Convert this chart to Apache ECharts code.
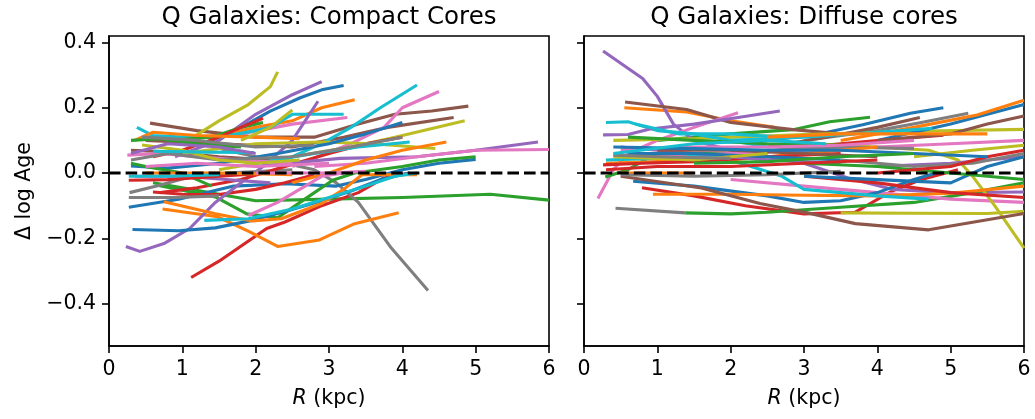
<!DOCTYPE html>
<html>
<head>
<meta charset="utf-8">
<script src="https://cdn.jsdelivr.net/npm/echarts@6/dist/echarts.min.js"></script>
<style>
html,body{margin:0;padding:0;background:#fff;}
#chart{width:1035px;height:419px;}
</style>
</head>
<body>
<div id="chart"></div>
<script>
// ---------- tick labels ----------
const xTicks = [0, 1, 2, 3, 4, 5, 6];
const yTicks = [-0.4, -0.2, 0, 0.2, 0.4];
const titles = ['Q Galaxies: Compact Cores', 'Q Galaxies: Diffuse cores'];

// ---------- left panel (Compact cores): profiles [R kpc, dlogAge] grouped by colour ----------
const leftBlue = [
  [[1.3,0.09],[1.8,0.14],[2.2,0.19],[2.6,0.23],[2.9,0.255],[3.2,0.268]],
  [[0.27,-0.105],[0.95,-0.08],[1.7,-0.04],[2.4,-0.033],[3.1,-0.04],[3.5,-0.02],[4.0,0.01],[4.5,0.03],[5.0,0.042]],
  [[0.32,-0.173],[0.95,-0.177],[1.45,-0.168],[1.95,-0.145],[2.45,-0.115],[2.9,-0.085],[3.3,-0.055],[3.7,-0.02],[4.1,0.0]],
  [[0.3,0.022],[0.8,0.015],[1.5,0.03],[2.3,0.06],[3.0,0.09],[3.5,0.12],[4.0,0.155]]
];
const leftOrange = [
  [[1.0,0.1],[1.6,0.12],[2.0,0.14],[2.5,0.16],[2.9,0.2],[3.35,0.225]],
  [[0.73,-0.11],[1.48,-0.134],[1.92,-0.18],[2.3,-0.225],[2.87,-0.205],[3.35,-0.155],[3.95,-0.122]],
  [[0.75,-0.088],[1.45,-0.125],[1.95,-0.147],[2.35,-0.14],[2.9,-0.093],[3.2,-0.05],[3.45,-0.005],[4.2,-0.005]],
  [[2.5,-0.03],[3.0,0.0],[3.5,0.04],[4.0,0.07],[4.6,0.095]],
  [[0.35,0.1],[0.6,0.125],[1.2,0.115],[2.0,0.11],[2.6,0.105]],
  [[0.5,0.0],[1.5,0.0],[2.5,-0.005]]
];
const leftGreen = [
  [[0.6,-0.03],[1.0,-0.045],[1.5,-0.065],[2.0,-0.085],[3.0,-0.08],[4.0,-0.075],[5.2,-0.065],[6.0,-0.083]],
  [[0.66,-0.037],[1.45,-0.073],[1.88,-0.125],[2.3,-0.137],[2.65,-0.083],[3.05,-0.022],[3.35,0.0],[4.0,0.02],[4.5,0.04],[5.0,0.05]],
  [[0.8,0.1],[1.4,0.11],[1.8,0.14],[2.1,0.155]],
  [[0.3,0.03],[0.55,0.018],[1.0,0.0],[1.4,-0.04]],
  [[0.3,0.1],[0.7,0.105],[1.2,0.09],[1.8,0.08]]
];
const leftRed = [
  [[1.12,-0.32],[1.5,-0.27],[2.15,-0.17],[2.4,-0.15],[2.9,-0.1],[3.4,-0.06],[3.75,-0.015],[4.1,0.0]],
  [[0.6,-0.058],[1.0,-0.065],[1.5,-0.066],[2.0,-0.05],[2.4,-0.03],[2.8,-0.005]],
  [[0.7,-0.06],[1.2,-0.045],[1.8,-0.02],[2.4,0.02],[3.0,0.06],[3.5,0.09],[4.0,0.11]],
  [[0.6,0.05],[1.0,0.07],[1.5,0.11],[1.8,0.14],[2.1,0.168]],
  [[0.27,-0.022],[0.8,-0.02],[1.5,-0.01],[2.2,0.0]]
];
const leftPurple = [
  [[0.9,0.05],[1.5,0.1],[2.0,0.18],[2.5,0.24],[2.9,0.28]],
  [[0.23,-0.225],[0.42,-0.24],[0.76,-0.215],[1.1,-0.17],[1.45,-0.09],[1.8,-0.03],[2.1,0.02],[2.5,0.1],[2.85,0.22]],
  [[2.0,0.02],[3.15,0.045],[4.2,0.05],[5.0,0.07],[5.85,0.095]],
  [[0.35,-0.01],[1.0,-0.01],[1.6,-0.02],[2.2,-0.03]],
  [[0.3,0.06],[0.8,0.09],[1.5,0.08],[2.0,0.06]]
];
const leftBrown = [
  [[0.56,0.153],[1.2,0.13],[2.0,0.11],[2.8,0.11],[3.4,0.15],[3.9,0.18],[4.4,0.19],[4.9,0.205]],
  [[0.5,0.1],[1.5,0.09],[2.5,0.08],[3.2,0.11],[3.8,0.14],[4.7,0.17]],
  [[0.3,0.07],[0.8,0.065],[1.5,0.05],[2.2,0.04]]
];
const leftPink = [
  [[1.8,0.12],[2.5,0.15],[3.25,0.17]],
  [[2.5,0.02],[3.3,0.09],[3.75,0.14],[4.0,0.2],[4.5,0.25]],
  [[2.8,0.02],[3.5,0.03],[4.2,0.05],[5.0,0.07],[6.0,0.072]],
  [[0.25,0.055],[0.7,0.06],[1.2,0.05],[1.8,0.04],[2.5,0.03]],
  [[1.9,-0.13],[2.3,-0.09],[2.6,-0.05],[2.9,-0.01],[3.2,0.0]],
  [[2.0,0.0],[3.0,0.0],[3.5,0.005]],
  [[0.5,0.02],[1.2,0.03],[2.0,0.02],[3.0,0.03]]
];
const leftGray = [
  [[1.0,0.11],[1.6,0.07],[2.2,0.04],[2.8,0.01],[3.1,-0.03],[3.4,-0.09],[3.85,-0.23],[4.35,-0.36]],
  [[0.28,-0.06],[0.65,-0.04],[1.05,-0.015],[1.6,0.0],[2.5,0.01]],
  [[0.27,-0.075],[0.9,-0.075],[1.5,-0.07]],
  [[0.3,0.04],[0.8,0.06],[1.5,0.04],[2.5,0.05],[3.3,0.08],[4.0,0.11]],
  [[0.45,0.11],[1.2,0.1],[2.0,0.08],[2.8,0.085]]
];
const leftOlive = [
  [[1.15,0.11],[1.5,0.16],[1.9,0.21],[2.2,0.265],[2.3,0.31]],
  [[1.5,0.01],[2.5,0.05],[3.3,0.08],[3.9,0.11],[4.85,0.16]],
  [[1.0,0.06],[2.0,0.09],[2.9,0.095],[3.6,0.09],[4.45,0.075]],
  [[0.45,0.086],[1.0,0.07],[1.5,0.04],[2.0,0.03],[2.6,0.04]],
  [[1.8,0.1],[2.2,0.14],[2.5,0.193]]
];
const leftCyan = [
  [[0.38,0.14],[0.6,0.115],[1.0,0.11],[1.5,0.11],[2.0,0.13],[2.2,0.14],[2.5,0.18],[3.2,0.18]],
  [[2.3,0.03],[2.9,0.09],[3.3,0.14],[3.7,0.2],[4.2,0.27]],
  [[2.0,0.03],[2.8,0.06],[3.4,0.08],[4.1,0.095]],
  [[0.6,0.067],[1.3,0.064],[1.98,0.063]],
  [[1.3,-0.145],[1.9,-0.14],[2.5,-0.11],[3.0,-0.075],[3.5,-0.04],[3.9,-0.01],[4.2,0.0]],
  [[0.27,-0.01],[0.8,-0.01],[1.5,-0.005]]
];

// ---------- right panel (Diffuse cores) ----------
const rightBlue = [
  [[2.5,0.1],[3.2,0.12],[3.8,0.148],[4.45,0.183],[4.9,0.2]],
  [[4.0,0.1],[5.0,0.15],[6.0,0.21]],
  [[0.67,-0.025],[1.5,-0.04],[2.5,-0.07],[3.0,-0.09],[3.5,-0.085],[4.0,-0.06],[4.5,-0.02],[4.8,0.0]],
  [[3.0,-0.01],[4.0,-0.02],[5.0,-0.03],[5.3,0.0],[5.5,0.02],[6.0,0.05]],
  [[0.6,0.06],[1.5,0.06],[2.5,0.05],[3.5,0.04]],
  [[0.4,0.08],[1.5,0.075],[2.5,0.07],[3.5,0.07],[4.5,0.06],[5.5,0.05]]
];
const rightOrange = [
  [[0.55,0.2],[1.4,0.187],[2.0,0.16],[2.6,0.14]],
  [[3.5,0.1],[4.5,0.14],[5.36,0.178],[6.0,0.223]],
  [[0.94,-0.065],[2.0,-0.065],[3.0,-0.068],[4.0,-0.07],[5.0,-0.062],[6.0,-0.04]],
  [[0.3,0.03],[1.0,0.035],[2.0,0.04],[3.0,0.06],[4.0,0.08]],
  [[0.5,0.0],[1.5,0.0]],
  [[2.5,0.11],[3.5,0.12],[4.5,0.12],[5.5,0.12]]
];
const rightGreen = [
  [[1.0,0.1],[2.0,0.12],[2.85,0.133],[3.35,0.157],[3.9,0.171]],
  [[1.38,-0.122],[2.0,-0.125],[2.5,-0.12],[3.5,-0.105],[4.5,-0.09],[5.3,-0.06],[6.0,-0.03]],
  [[0.29,-0.012],[0.6,0.01],[0.9,0.05],[1.5,0.06],[2.5,0.06]],
  [[0.6,0.11],[1.5,0.1],[2.5,0.09],[3.5,0.085]],
  [[3.0,0.03],[4.0,0.02],[5.0,0.0],[6.0,-0.02]],
  [[1.5,0.03],[2.5,0.035],[3.5,0.05],[4.5,0.06]]
];
const rightRed = [
  [[0.79,-0.045],[1.5,-0.07],[2.2,-0.1],[3.0,-0.125],[3.7,-0.12],[4.2,-0.055],[4.6,-0.02],[5.1,0.01]],
  [[1.0,0.04],[2.0,0.05],[3.0,0.08],[4.0,0.1],[4.9,0.116]],
  [[3.0,-0.01],[4.0,-0.03],[5.0,-0.06],[6.0,-0.075]],
  [[0.26,0.025],[0.8,0.03],[1.5,0.035],[2.5,0.05],[3.5,0.06]],
  [[4.0,0.0],[5.0,0.02],[5.5,0.05],[6.0,0.07]],
  [[0.3,0.01],[1.0,0.02],[2.0,0.02],[3.0,0.03],[4.0,0.04]]
];
const rightPurple = [
  [[0.26,0.374],[0.8,0.29],[1.0,0.235],[1.22,0.15],[1.5,0.1],[2.0,0.07],[3.0,0.03],[3.6,-0.015],[4.2,-0.05],[5.0,-0.06],[6.0,-0.058]],
  [[0.26,0.117],[0.6,0.118],[0.9,0.135],[1.5,0.15],[2.1,0.17],[2.67,0.19]],
  [[4.0,0.02],[5.0,0.03],[6.0,0.05]],
  [[0.5,0.08],[1.5,0.06],[2.5,0.04],[3.5,0.03]]
];
const rightBrown = [
  [[0.56,0.218],[1.4,0.195],[2.0,0.155],[2.85,0.133],[3.5,0.12]],
  [[2.5,0.08],[3.3,0.11],[4.0,0.14],[4.58,0.17]],
  [[4.0,0.1],[5.0,0.12],[5.5,0.15],[6.0,0.175]],
  [[0.5,-0.01],[1.6,-0.046],[2.4,-0.093],[3.05,-0.122],[3.7,-0.155],[4.7,-0.174],[6.0,-0.124]],
  [[1.0,0.07],[2.0,0.07],[3.0,0.06],[4.0,0.05]]
];
const rightPink = [
  [[0.19,-0.078],[0.4,0.01],[0.6,0.06],[1.0,0.1],[1.5,0.14],[2.1,0.185]],
  [[2.0,-0.02],[3.0,-0.04],[4.0,-0.06],[5.0,-0.08],[6.0,-0.09]],
  [[1.0,0.05],[2.5,0.065],[4.0,0.08],[5.0,0.09],[6.0,0.1]],
  [[0.5,0.07],[1.5,0.08],[2.5,0.08],[3.5,0.085],[4.5,0.1]]
];
const rightGray = [
  [[3.0,0.1],[4.0,0.13],[4.6,0.155],[5.24,0.183]],
  [[0.43,-0.108],[1.38,-0.122]],
  [[2.5,0.07],[3.5,0.08],[4.5,0.075]],
  [[3.5,0.04],[4.5,0.02],[5.3,0.03],[6.0,0.06]],
  [[0.5,-0.005],[1.5,-0.01],[2.5,-0.005],[3.5,0.005]],
  [[0.4,0.055],[1.0,0.05],[2.0,0.045]]
];
const rightOlive = [
  [[0.4,0.1],[1.5,0.105],[3.0,0.118],[4.5,0.128],[6.0,0.134]],
  [[3.0,0.09],[4.0,0.08],[4.7,0.07],[5.1,0.04],[5.3,-0.01],[5.6,-0.1],[6.0,-0.23]],
  [[3.5,-0.122],[4.5,-0.123],[5.5,-0.124],[6.0,-0.117]],
  [[4.5,0.05],[5.3,0.07],[6.0,0.085]],
  [[0.4,0.05],[1.5,0.04],[2.5,0.06]]
];
const rightCyan = [
  [[0.3,0.155],[0.6,0.157],[1.0,0.13],[1.5,0.12],[2.0,0.1],[2.5,0.08]],
  [[2.0,0.1],[3.0,0.11],[4.0,0.125],[4.75,0.137]],
  [[1.0,0.07],[2.0,0.04],[2.7,-0.01],[3.0,-0.05],[4.0,-0.07],[4.7,-0.08]],
  [[0.3,0.04],[1.0,0.045],[2.0,0.05]],
  [[0.7,0.15],[1.3,0.12],[2.0,0.12],[2.7,0.11]],
  [[0.4,0.06],[1.5,0.09],[2.5,0.1],[3.3,0.09]]
];
const zeroLine = [[0, 0], [6, 0]];

// ---------- build ----------
const FONT = 'DejaVu Sans';
const tab10 = ['#1f77b4','#ff7f0e','#2ca02c','#d62728','#9467bd','#8c564b','#e377c2','#7f7f7f','#bcbd22','#17becf'];
const leftGroups = [leftBlue,leftOrange,leftGreen,leftRed,leftPurple,leftBrown,leftPink,leftGray,leftOlive,leftCyan];
const rightGroups = [rightBlue,rightOrange,rightGreen,rightRed,rightPurple,rightBrown,rightPink,rightGray,rightOlive,rightCyan];

function panelSeries(groups, idx) {
  const out = [];
  const maxLen = Math.max(...groups.map(g => g.length));
  for (let k = 0; k < maxLen; k++) {
    groups.forEach((g, c) => {
      if (g[k]) out.push({
        type: 'line', xAxisIndex: idx, yAxisIndex: idx, data: g[k],
        showSymbol: false, symbol: 'none', silent: true,
        lineStyle: { color: tab10[c], width: 3.1, cap: 'butt', join: 'round' }, z: 2
      });
    });
  }
  out.push({
    type: 'line', xAxisIndex: idx, yAxisIndex: idx, data: zeroLine,
    showSymbol: false, symbol: 'none', silent: true,
    lineStyle: { color: '#000', width: 3.1, type: [11.6, 5], cap: 'butt' }, z: 5
  });
  return out;
}

const axisLineStyle = { color: '#000', width: 1.6 };
function mkX(i) {
  return {
    type: 'value', gridIndex: i, min: xTicks[0], max: xTicks[xTicks.length - 1], interval: 1,
    axisLine: { show: true, onZero: false, lineStyle: axisLineStyle },
    axisTick: { show: true, length: 7, lineStyle: axisLineStyle },
    splitLine: { show: false },
    axisLabel: { fontSize: 20.5, color: '#000', margin: 13, fontFamily: FONT, showMinLabel: true, showMaxLabel: true },
    name: '{i|R} (kpc)', nameLocation: 'middle', nameGap: 42,
    nameTextStyle: { fontSize: 20.5, color: '#000', fontFamily: FONT,
      rich: { i: { fontStyle: 'italic', fontSize: 20.5, color: '#000', fontFamily: FONT } } }
  };
}
function mkY(i, labels) {
  return {
    type: 'value', gridIndex: i, min: -0.53, max: 0.42,
    axisLine: { show: true, onZero: false, lineStyle: axisLineStyle },
    axisTick: { show: true, length: 7, lineStyle: axisLineStyle, customValues: yTicks },
    splitLine: { show: false },
    axisLabel: { show: labels, customValues: yTicks, fontSize: 20.5, color: '#000', margin: 13, fontFamily: FONT,
      formatter: v => v.toFixed(1).replace('-', '\u2212') },
    name: labels ? 'Δ log Age' : '', nameLocation: 'middle', nameGap: 74,
    nameTextStyle: { fontSize: 20.5, color: '#000', fontFamily: FONT }
  };
}

const chart = echarts.init(document.getElementById('chart'), null, { renderer: 'canvas' });
chart.setOption({
  animation: false,
  backgroundColor: '#fff',
  grid: [
    { left: 109, top: 36, width: 440, height: 310, show: true, borderColor: '#000', borderWidth: 1.6, backgroundColor: 'transparent' },
    { left: 584, top: 36, width: 440, height: 310, show: true, borderColor: '#000', borderWidth: 1.6, backgroundColor: 'transparent' }
  ],
  xAxis: [mkX(0), mkX(1)],
  yAxis: [mkY(0, true), mkY(1, false)],
  graphic: [
    { type: 'text', x: 329, y: 18, style: { text: titles[0], font: '24.5px "DejaVu Sans"', fill: '#000', textAlign: 'center', textVerticalAlign: 'middle' } },
    { type: 'text', x: 804, y: 18, style: { text: titles[1], font: '24.5px "DejaVu Sans"', fill: '#000', textAlign: 'center', textVerticalAlign: 'middle' } }
  ],
  series: panelSeries(leftGroups, 0).concat(panelSeries(rightGroups, 1))
});
</script>
</body>
</html>
